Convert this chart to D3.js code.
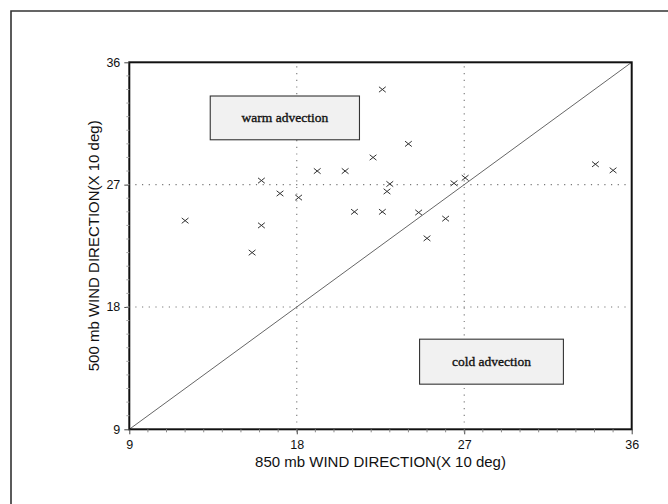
<!DOCTYPE html>
<html>
<head>
<meta charset="utf-8">
<script src="https://cdn.jsdelivr.net/npm/d3@7"></script>
<style>
  html, body { margin: 0; padding: 0; background: #fff; }
  svg { display: block; }
</style>
</head>
<body>
<div id="chart"></div>
<script>
// 850 mb vs 500 mb wind direction (x 10 deg)
var dir850 = [12.0, 15.6, 16.1, 16.1, 17.1, 18.1, 19.1, 20.6, 21.1, 22.1, 22.6,
              22.6, 22.85, 23.0, 24.0, 24.55, 25.0, 26.0, 26.45, 27.05, 34.05, 35.0];
var dir500 = [24.35, 22.0, 24.0, 27.3, 26.35, 26.05, 28.0, 28.0, 25.0, 29.0, 25.0,
              34.0, 26.5, 27.05, 30.0, 24.95, 23.05, 24.5, 27.1, 27.5, 28.5, 28.05];
var tickValues = [9, 18, 27, 36];
var gridValues = [18, 27];
var regionLabels = ['warm advection', 'cold advection'];

var width = 668, height = 504;
var margin = { top: 62.3, right: 36.3, bottom: 74.7, left: 129.3 };

var svg = d3.select('#chart').append('svg')
  .attr('width', width)
  .attr('height', height);

// outer frame (top and left edges visible)
svg.append('path')
  .attr('d', 'M11,' + height + 'V11H' + width)
  .attr('fill', 'none')
  .attr('stroke', '#333')
  .attr('stroke-width', 1.6);

var x = d3.scaleLinear().domain([9, 36]).range([margin.left, width - margin.right]);
var y = d3.scaleLinear().domain([9, 36]).range([height - margin.bottom, margin.top]);

// dotted grid
svg.append('g')
  .selectAll('line')
  .data(gridValues)
  .join('line')
  .attr('x1', function (d) { return x(d); })
  .attr('x2', function (d) { return x(d); })
  .attr('y1', y(36) + 4)
  .attr('y2', y(9) - 4)
  .attr('stroke', '#777')
  .attr('stroke-width', 1.1)
  .attr('stroke-dasharray', '1.2 5.5');

svg.append('g')
  .selectAll('line')
  .data(gridValues)
  .join('line')
  .attr('x1', x(9) + 6)
  .attr('x2', x(36) - 4)
  .attr('y1', function (d) { return y(d); })
  .attr('y2', function (d) { return y(d); })
  .attr('stroke', '#777')
  .attr('stroke-width', 1.1)
  .attr('stroke-dasharray', '1.2 5.5');

// 1:1 line
svg.append('line')
  .attr('x1', x(9)).attr('y1', y(9))
  .attr('x2', x(36)).attr('y2', y(36))
  .attr('stroke', '#666')
  .attr('stroke-width', 1);

// annotation boxes, placed in data units
var boxes = [
  { x0: 13.35, x1: 21.37, y0: 30.3, y1: 33.52 },
  { x0: 24.6, x1: 32.33, y0: 12.32, y1: 15.63 }
];
var box = svg.selectAll('.box')
  .data(boxes)
  .join('g')
  .attr('class', 'box');
box.append('rect')
  .attr('x', function (d) { return x(d.x0); })
  .attr('y', function (d) { return y(d.y1); })
  .attr('width', function (d) { return x(d.x1) - x(d.x0); })
  .attr('height', function (d) { return y(d.y0) - y(d.y1); })
  .attr('fill', '#f1f1f1')
  .attr('stroke', '#333')
  .attr('stroke-width', 1.1);
box.append('text')
  .attr('x', function (d) { return (x(d.x0) + x(d.x1)) / 2; })
  .attr('y', function (d) { return (y(d.y0) + y(d.y1)) / 2 + 4.5; })
  .attr('text-anchor', 'middle')
  .attr('font-family', '"Liberation Serif", "Times New Roman", serif')
  .attr('font-size', 13.5)
  .attr('fill', '#111')
  .attr('stroke', '#111')
  .attr('stroke-width', 0.35)
  .text(function (d, i) { return regionLabels[i]; });

// plot frame
svg.append('rect')
  .attr('x', x(9)).attr('y', y(36))
  .attr('width', x(36) - x(9)).attr('height', y(9) - y(36))
  .attr('fill', 'none')
  .attr('stroke', '#111')
  .attr('stroke-width', 2);

// axes
var xAxis = svg.append('g')
  .attr('transform', 'translate(0,' + y(9) + ')')
  .call(d3.axisBottom(x).tickValues(tickValues).tickSize(5).tickPadding(6).tickFormat(d3.format('d')));
var yAxis = svg.append('g')
  .attr('transform', 'translate(' + x(9) + ',0)')
  .call(d3.axisLeft(y).tickValues(tickValues).tickSize(5).tickPadding(4).tickFormat(d3.format('d')));

[xAxis, yAxis].forEach(function (g) {
  g.select('.domain').remove();
  g.selectAll('line').attr('stroke', '#444');
  g.selectAll('text')
    .attr('font-family', '"Liberation Sans", Arial, sans-serif')
    .attr('font-size', 12.5)
    .attr('fill', '#111');
});

// minor ticks every unit
var minor = d3.range(10, 36);
svg.append('g')
  .selectAll('line')
  .data(minor)
  .join('line')
  .attr('x1', function (d) { return x(d); })
  .attr('x2', function (d) { return x(d); })
  .attr('y1', y(9))
  .attr('y2', y(9) + 3)
  .attr('stroke', '#888');
svg.append('g')
  .selectAll('line')
  .data(minor)
  .join('line')
  .attr('x1', x(9) - 3)
  .attr('x2', x(9))
  .attr('y1', function (d) { return y(d); })
  .attr('y2', function (d) { return y(d); })
  .attr('stroke', '#aaa');

// data markers
var pts = dir850.map(function (v, i) { return [v, dir500[i]]; });
svg.append('g')
  .selectAll('path')
  .data(pts)
  .join('path')
  .attr('d', function (d) {
    var cx = x(d[0]), cy = y(d[1]), w = 3.4, h = 2.7;
    return 'M' + (cx - w) + ',' + (cy - h) + 'L' + (cx + w) + ',' + (cy + h) +
           'M' + (cx - w) + ',' + (cy + h) + 'L' + (cx + w) + ',' + (cy - h);
  })
  .attr('fill', 'none')
  .attr('stroke', '#333')
  .attr('stroke-width', 1);

// axis titles
svg.append('text')
  .attr('x', (x(9) + x(36)) / 2)
  .attr('y', 467)
  .attr('text-anchor', 'middle')
  .attr('font-family', '"Liberation Sans", Arial, sans-serif')
  .attr('font-size', 15)
  .attr('fill', '#111')
  .text('850 mb WIND DIRECTION(X 10 deg)');

svg.append('text')
  .attr('transform', 'translate(99,' + (y(9) + y(36)) / 2 + ') rotate(-90)')
  .attr('text-anchor', 'middle')
  .attr('font-family', '"Liberation Sans", Arial, sans-serif')
  .attr('font-size', 15)
  .attr('fill', '#111')
  .text('500 mb WIND DIRECTION(X 10 deg)');
</script>
</body>
</html>
